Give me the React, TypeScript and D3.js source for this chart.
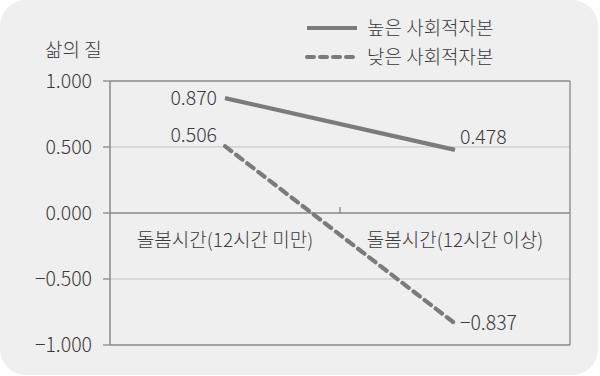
import React from "react";
import * as d3 from "d3";

const categories = ["돌봄시간(12시간 미만)", "돌봄시간(12시간 이상)"];
const seriesNames = ["높은 사회적자본", "낮은 사회적자본"];
const highValues = [0.87, 0.478];
const lowValues = [0.506, -0.837];
const yTicks = [1, 0.5, 0, -0.5, -1];
const yTitle = "삶의 질";

const W = 600, H = 376;
const left = 110, right = 570, top = 81, bottom = 345;
const FONT = "'Noto Sans CJK KR', 'Noto Sans', sans-serif";
const LINE = "#7b7b7b";
const TXT = "#3a3a3a";

export default function App() {
  const x = d3.scaleBand<string>().domain(categories).range([left, right]);
  const y = d3.scaleLinear().domain([-1, 1]).range([bottom, top]);
  const line = d3
    .line<number>()
    .x((_, i) => (x(categories[i]) as number) + x.bandwidth() / 2)
    .y((d) => y(d));
  const series = [
    { name: seriesNames[0], values: highValues, dash: undefined as string | undefined },
    { name: seriesNames[1], values: lowValues, dash: "8 6" },
  ];
  const fmt = (v: number) => (v < 0 ? "\u2212" : "") + d3.format(".3f")(Math.abs(v));
  const px = (i: number) => (x(categories[i]) as number) + x.bandwidth() / 2;
  const labelPos: [number, number, string][][] = [
    [[-8, 7, "end"], [5, -6, "start"]],
    [[-8, -4, "end"], [5, 7, "start"]],
  ];
  return (
    <svg width={W} height={H} style={{ display: "block", position: "absolute", left: 0, top: 0 }}>
      <rect x={0} y={0} width={W - 2} height={H - 1} rx={26} ry={26} fill="#efefef" />
      <text x={45} y={57} fontFamily={FONT} fontWeight={300} fontSize={19} fill={TXT}>{yTitle}</text>
      {yTicks.filter((t) => t !== 0 && Math.abs(t) !== 1).map((t) => (
        <line key={"g" + t} x1={left} x2={right} y1={y(t)} y2={y(t)} stroke="#c4c4c4" strokeWidth={1.2} />
      ))}
      <line x1={left} x2={right} y1={y(1)} y2={y(1)} stroke="#888" strokeWidth={1.3} />
      <line x1={left} x2={right} y1={y(-1)} y2={y(-1)} stroke="#888" strokeWidth={1.3} />
      <line x1={right} x2={right} y1={y(1)} y2={y(-1)} stroke="#888" strokeWidth={1.3} />
      <line x1={left} x2={right} y1={y(0)} y2={y(0)} stroke="#888" strokeWidth={1.5} />
      <line x1={left} x2={left} y1={y(1)} y2={y(-1)} stroke="#888" strokeWidth={1.5} />
      <line x1={(left + right) / 2} x2={(left + right) / 2} y1={y(0)} y2={y(0) - 6} stroke="#888" strokeWidth={1.3} />
      {yTicks.map((t) => (
        <g key={t}>
          <line x1={left - 7} x2={left} y1={y(t)} y2={y(t)} stroke="#888" strokeWidth={1.3} />
          <text x={92} y={y(t)} dy="0.36em" textAnchor="end" fontFamily={FONT} fontWeight={300} fontSize={19.5} fill={TXT}>
            {fmt(t)}
          </text>
        </g>
      ))}
      {categories.map((c) => (
        <text key={c} x={(x(c) as number) + x.bandwidth() / 2} y={y(0) + 27} dy="0.36em" textAnchor="middle"
          fontFamily={FONT} fontWeight={300} fontSize={19} fill={TXT}>{c}</text>
      ))}
      {series.map((s, si) => (
        <g key={s.name}>
          <path d={line(s.values) || ""} fill="none" stroke={LINE} strokeWidth={4.2} strokeDasharray={s.dash}
            strokeLinecap={s.dash ? "round" : "butt"} />
          {s.values.map((v, i) => {
            const [dx, dy, anchor] = labelPos[si][i];
            return (
              <text key={i} x={px(i) + dx} y={y(v) + dy} textAnchor={anchor as any} fontFamily={FONT} fontWeight={300} fontSize={19.5} fill={TXT}>
                {fmt(v)}
              </text>
            );
          })}
        </g>
      ))}
      {series.map((s, si) => (
        <g key={"l" + si} transform={`translate(307, ${28 + si * 29})`}>
          <line x1={0} x2={50} y1={0} y2={0} stroke={LINE} strokeWidth={4} strokeDasharray={s.dash ? "7 6" : undefined}
            strokeLinecap={s.dash ? "round" : "butt"} />
          <text x={60} y={0} dy="0.36em" fontFamily={FONT} fontWeight={300} fontSize={19} fill={TXT}>{s.name}</text>
        </g>
      ))}
    </svg>
  );
}
